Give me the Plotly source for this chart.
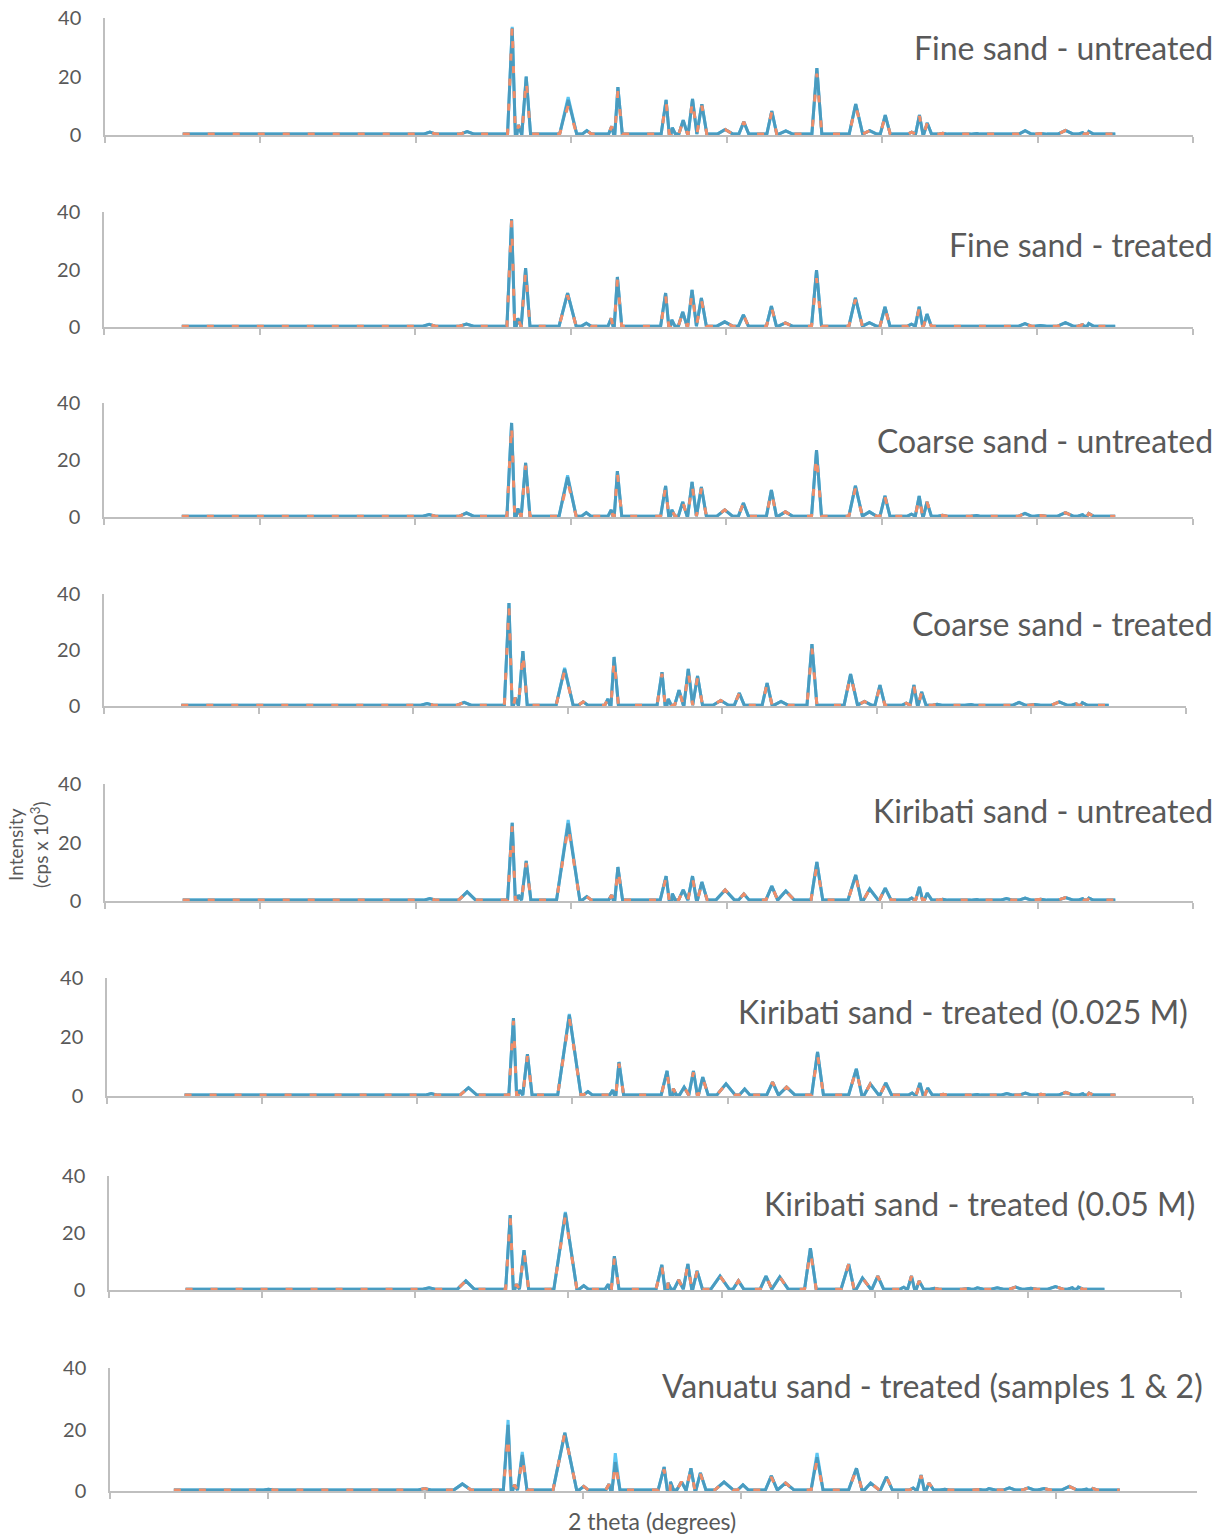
import plotly.graph_objects as go

# ---------------- data ----------------
PANEL_TITLES = [
    "Fine sand - untreated",
    "Fine sand - treated",
    "Coarse sand - untreated",
    "Coarse sand - treated",
    "Kiribati sand - untreated",
    "Kiribati sand - treated (0.025 M)",
    "Kiribati sand - treated (0.05 M)",
    "Vanuatu sand - treated (samples 1 & 2)",
]

SCAN_START = 5.0
SCAN_END = 65.0
BASELINE = [0.3, 0.3, 0.3, 0.3, 0.3, 0.3, 0.3, 0.3]

# peak positions (2 theta, degrees)
PEAK_POS = [11.0, 20.9, 23.3, 26.2, 26.6, 27.1, 29.8, 31.0, 32.6, 33.0,
            36.1, 36.5, 37.2, 37.8, 38.4, 39.9, 41.1, 42.9, 43.8, 45.8,
            48.3, 49.2, 50.2, 51.9, 52.4, 52.9, 53.9, 56.1, 56.7, 58.0,
            59.2, 60.2, 61.8, 62.9, 63.3]
# half base widths (degrees): quartz-rich sands / carbonate sands
PEAK_WID_SILICA = [0.3, 0.4, 0.45, 0.3, 0.2, 0.28, 0.55, 0.3, 0.2, 0.28,
                   0.32, 0.2, 0.28, 0.28, 0.32, 0.5, 0.32, 0.32, 0.45, 0.32,
                   0.42, 0.45, 0.32, 0.25, 0.28, 0.28, 0.3, 0.4, 0.4, 0.4,
                   0.4, 0.4, 0.5, 0.3, 0.3]
PEAK_WID_CARB = [0.3, 0.4, 0.55, 0.3, 0.2, 0.3, 0.75, 0.3, 0.2, 0.3,
                 0.38, 0.2, 0.3, 0.32, 0.35, 0.6, 0.35, 0.38, 0.55, 0.38,
                 0.5, 0.55, 0.38, 0.25, 0.32, 0.3, 0.3, 0.4, 0.4, 0.4,
                 0.4, 0.4, 0.5, 0.3, 0.3]
PANEL_WID = [PEAK_WID_SILICA] * 4 + [PEAK_WID_CARB] * 4

# intensities (cps x 10^3) per panel; three overlaid scans per panel
BLUE = [
    [0.5, 1.0, 1.2, 36.5, 3.4, 20.0, 12.0, 1.5, 3.0, 16.4, 12.0, 2.5, 5.1, 12.3, 10.5, 1.9, 4.5, 8.2, 1.4, 22.9, 10.6, 1.5, 6.8, 1.0, 6.8, 4.1, 0.6, 0.5, 0.4, 0.5, 1.5, 0.5, 1.6, 0.8, 1.2],
    [0.4, 0.9, 1.0, 37.5, 3.0, 20.5, 11.8, 1.3, 3.0, 17.4, 11.8, 2.5, 5.2, 12.9, 10.1, 1.8, 4.2, 7.3, 1.4, 19.8, 10.1, 1.5, 7.0, 1.0, 7.0, 4.5, 0.5, 0.5, 0.4, 0.5, 1.2, 0.5, 1.5, 0.8, 1.2],
    [0.3, 0.9, 1.4, 33.0, 3.0, 19.0, 14.0, 1.5, 2.5, 16.1, 10.9, 2.5, 5.3, 12.3, 10.5, 2.5, 4.9, 9.5, 1.8, 23.5, 10.9, 1.8, 7.4, 1.0, 7.4, 5.3, 0.6, 0.5, 0.5, 0.5, 1.3, 0.5, 1.5, 0.8, 1.2],
    [0.3, 0.9, 1.3, 36.8, 3.0, 19.6, 13.2, 1.5, 2.5, 17.5, 12.1, 2.5, 5.7, 13.2, 10.7, 2.0, 4.6, 8.2, 1.6, 22.1, 11.4, 1.6, 7.5, 1.0, 7.5, 5.0, 0.6, 0.5, 0.5, 0.5, 1.3, 0.5, 1.5, 0.8, 1.2],
    [0.3, 0.8, 3.1, 26.7, 2.0, 13.7, 26.5, 1.5, 2.0, 11.6, 8.5, 2.5, 3.8, 8.5, 6.5, 3.8, 2.4, 5.1, 3.4, 13.3, 8.9, 4.1, 4.4, 1.0, 4.8, 2.7, 0.6, 0.5, 0.5, 0.8, 1.0, 0.6, 1.2, 0.8, 1.0],
    [0.4, 0.8, 2.8, 26.4, 2.0, 14.2, 27.5, 1.5, 2.0, 11.5, 8.5, 2.5, 3.0, 8.5, 6.4, 4.1, 2.4, 4.7, 3.0, 14.9, 9.2, 4.1, 4.4, 1.0, 4.4, 2.7, 0.6, 0.5, 0.5, 0.8, 1.0, 0.6, 1.2, 0.8, 1.0],
    [0.4, 0.8, 3.2, 26.3, 2.0, 14.0, 27.0, 1.5, 2.0, 11.9, 8.8, 2.5, 3.5, 9.1, 6.7, 4.9, 3.2, 4.9, 4.6, 14.7, 9.1, 4.2, 4.9, 1.0, 4.9, 3.2, 0.6, 0.5, 0.8, 0.8, 1.0, 0.6, 1.2, 0.8, 1.0],
    [0.6, 0.8, 2.3, 21.5, 2.0, 11.7, 18.9, 1.5, 2.2, 9.4, 7.8, 3.0, 3.0, 7.4, 5.9, 2.9, 2.0, 4.9, 2.6, 11.0, 7.4, 2.6, 4.6, 1.0, 5.2, 2.6, 0.6, 0.5, 0.8, 1.0, 1.0, 0.8, 1.5, 0.6, 0.8],
]
ORANGE = [
    [0.5, 1.0, 1.2, 37.3, 3.4, 19.0, 10.0, 1.5, 3.0, 15.0, 11.5, 2.5, 5.1, 12.0, 10.0, 1.9, 4.5, 8.0, 1.4, 21.0, 10.0, 1.5, 6.5, 1.0, 6.5, 4.1, 0.6, 0.5, 0.4, 0.5, 1.5, 0.5, 1.6, 0.8, 1.2],
    [0.4, 0.9, 1.0, 37.0, 3.0, 19.5, 11.0, 1.3, 3.0, 16.5, 11.0, 2.5, 5.2, 12.0, 9.5, 1.8, 4.2, 7.0, 1.4, 17.0, 9.5, 1.5, 6.5, 1.0, 6.5, 4.5, 0.5, 0.5, 0.4, 0.5, 1.2, 0.5, 1.5, 0.8, 1.2],
    [0.3, 0.9, 1.4, 32.5, 3.0, 18.0, 12.5, 1.5, 2.5, 15.5, 10.5, 2.5, 5.3, 11.5, 10.0, 2.5, 4.9, 9.0, 1.8, 21.5, 10.0, 1.8, 7.0, 1.0, 7.0, 5.3, 0.6, 0.5, 0.5, 0.5, 1.3, 0.5, 1.5, 0.8, 1.2],
    [0.3, 0.9, 1.3, 35.5, 3.0, 19.0, 12.5, 1.5, 2.5, 16.5, 11.5, 2.5, 5.7, 12.5, 10.0, 2.0, 4.6, 8.0, 1.6, 20.5, 11.0, 1.6, 7.0, 1.0, 7.0, 5.0, 0.6, 0.5, 0.5, 0.5, 1.3, 0.5, 1.5, 0.8, 1.2],
    [0.3, 0.8, 3.1, 25.5, 2.0, 13.0, 25.5, 1.5, 2.0, 11.0, 8.0, 2.5, 3.8, 8.0, 6.0, 3.8, 2.4, 5.1, 3.4, 12.0, 8.5, 4.1, 4.4, 1.0, 4.5, 2.7, 0.6, 0.5, 0.5, 0.8, 1.0, 0.6, 1.2, 0.8, 1.0],
    [0.4, 0.8, 2.8, 25.5, 2.0, 13.5, 26.5, 1.5, 2.0, 11.0, 8.0, 2.5, 3.0, 8.0, 6.0, 4.1, 2.4, 4.7, 3.0, 14.0, 9.0, 4.1, 4.4, 1.0, 4.4, 2.7, 0.6, 0.5, 0.5, 0.8, 1.0, 0.6, 1.2, 0.8, 1.0],
    [0.4, 0.8, 3.2, 25.5, 2.0, 13.5, 26.0, 1.5, 2.0, 11.0, 8.5, 2.5, 3.5, 9.1, 6.5, 4.9, 3.2, 4.9, 4.6, 13.5, 9.1, 4.2, 4.9, 1.0, 4.9, 3.2, 0.6, 0.5, 0.8, 0.8, 1.0, 0.6, 1.2, 0.8, 1.0],
    [1.5, 0.8, 2.3, 18.0, 2.0, 11.0, 18.9, 1.5, 2.2, 9.0, 7.0, 3.0, 3.0, 7.0, 5.5, 2.9, 2.0, 4.5, 2.6, 10.0, 7.0, 2.6, 4.6, 1.0, 5.0, 2.6, 0.6, 0.5, 0.8, 1.0, 1.0, 0.8, 1.5, 0.6, 0.8],
]
CYAN = [
    [0.5, 1.0, 1.2, 37.0, 3.4, 20.0, 13.0, 1.5, 3.0, 16.4, 12.0, 2.5, 5.1, 12.3, 10.5, 1.9, 4.5, 8.2, 1.4, 22.9, 10.6, 1.5, 6.8, 1.0, 6.8, 4.1, 0.6, 0.5, 0.4, 0.5, 1.5, 0.5, 1.6, 0.8, 1.2],
    [0.4, 0.9, 1.0, 37.5, 3.0, 20.5, 11.8, 1.3, 3.0, 17.4, 11.8, 2.5, 5.2, 12.9, 10.1, 1.8, 4.2, 7.3, 1.4, 19.8, 10.1, 1.5, 7.0, 1.0, 7.0, 4.5, 0.5, 0.5, 0.4, 0.5, 1.2, 0.5, 1.5, 0.8, 1.2],
    [0.3, 0.9, 1.4, 33.0, 3.0, 19.0, 14.6, 1.5, 2.5, 16.1, 10.9, 2.5, 5.3, 12.3, 10.5, 2.5, 4.9, 9.5, 1.8, 23.5, 10.9, 1.8, 7.4, 1.0, 7.4, 5.3, 0.6, 0.5, 0.5, 0.5, 1.3, 0.5, 1.5, 0.8, 1.2],
    [0.3, 0.9, 1.3, 36.8, 3.0, 19.6, 13.6, 1.5, 2.5, 17.5, 12.1, 2.5, 5.7, 13.2, 10.7, 2.0, 4.6, 8.2, 1.6, 22.1, 11.4, 1.6, 7.5, 1.0, 7.5, 5.0, 0.6, 0.5, 0.5, 0.5, 1.3, 0.5, 1.5, 0.8, 1.2],
    [0.3, 0.8, 3.1, 26.7, 2.0, 13.7, 27.7, 1.5, 2.0, 11.6, 8.5, 2.5, 3.8, 8.5, 6.5, 3.8, 2.4, 5.1, 3.4, 13.3, 8.9, 4.1, 4.4, 1.0, 4.8, 2.7, 0.6, 0.5, 0.5, 0.8, 1.0, 0.6, 1.2, 0.8, 1.0],
    [0.4, 0.8, 2.8, 26.4, 2.0, 14.2, 27.8, 1.5, 2.0, 11.5, 8.5, 2.5, 3.0, 8.5, 6.4, 4.1, 2.4, 4.7, 3.0, 14.9, 9.2, 4.1, 4.4, 1.0, 4.4, 2.7, 0.6, 0.5, 0.5, 0.8, 1.0, 0.6, 1.2, 0.8, 1.0],
    [0.4, 0.8, 3.2, 26.3, 2.0, 14.0, 27.4, 1.5, 2.0, 11.9, 8.8, 2.5, 3.5, 9.1, 6.7, 4.9, 3.2, 4.9, 4.6, 14.7, 9.1, 4.2, 4.9, 1.0, 4.9, 3.2, 0.6, 0.5, 0.8, 0.8, 1.0, 0.6, 1.2, 0.8, 1.0],
    [0.6, 0.8, 2.3, 23.1, 2.0, 12.7, 18.9, 1.5, 2.2, 12.3, 7.8, 3.0, 3.0, 7.4, 5.9, 2.9, 2.0, 4.9, 2.6, 12.4, 7.4, 2.6, 4.6, 1.0, 5.2, 2.6, 0.6, 0.5, 0.8, 1.0, 1.0, 0.8, 1.5, 0.6, 0.8],
]

Y_TICKS = [0, 20, 40]
X_RANGES = [[0, 70]] * 7 + [[0.95, 69.9]]

# ---------------- layout geometry (pixels in a 1228 x 1534 page) ----------------
W, H = 1228, 1534
# (left, right, top-of-40, bottom-of-0)
BOXES = [
    (105, 1193, 18, 135),
    (104, 1193, 212, 327),
    (104, 1193, 403, 517),
    (104, 1186, 594, 706),
    (105, 1193, 784, 901),
    (107, 1193, 978, 1096),
    (109, 1181, 1176, 1290),
    (110, 1197, 1368, 1491),
]
TITLE_POS = [(1215, 48), (1215, 245), (1215, 440), (1215, 623),
             (1215, 810), (1190, 1011), (1197, 1203), (1205, 1385)]

FONT = "Lato, 'Open Sans', sans-serif"
GREY = "#595959"
AXIS = "#BFBFBF"
C_BLUE = "#4A9BBF"
C_ORANGE = "#F08E6A"
C_CYAN = "#5CC6F2"


def profile(heights, widths, base):
    pts = [(SCAN_START, base), (SCAN_END, base)]
    for p, w, h in zip(PEAK_POS, widths, heights):
        pts += [(p - w, base), (p, h), (p + w, base)]
    pts.sort()
    return [q[0] for q in pts], [q[1] for q in pts]


fig = go.Figure()
layout = dict(
    width=W, height=H,
    margin=dict(l=0, r=0, t=0, b=0, autoexpand=False),
    paper_bgcolor="white", plot_bgcolor="white",
    showlegend=False,
    font=dict(family=FONT, color=GREY),
)
annotations = []

for i in range(8):
    n = "" if i == 0 else str(i + 1)
    xa, ya = "x" + n, "y" + n
    base = BASELINE[i]
    for heights, color, dash in ((CYAN[i], C_CYAN, "solid"),
                                 (BLUE[i], C_BLUE, "solid"),
                                 (ORANGE[i], C_ORANGE, "7px,18px")):
        xs, ys = profile(heights, PANEL_WID[i], base)
        fig.add_trace(go.Scatter(x=xs, y=ys, mode="lines", xaxis=xa, yaxis=ya,
                                 line=dict(color=color, width=3, dash=dash),
                                 hoverinfo="skip"))
    l, r, t, b = BOXES[i]
    x0 = X_RANGES[i][0]
    layout["xaxis" + n] = dict(
        domain=[l / W, r / W], anchor=ya, range=X_RANGES[i],
        showline=True, linecolor=AXIS, linewidth=1.5,
        ticks="outside", ticklen=6, tickwidth=1.5, tickcolor=AXIS,
        tick0=x0, dtick=10, showticklabels=False,
        showgrid=False, zeroline=False, automargin=False,
    )
    layout["yaxis" + n] = dict(
        domain=[1 - b / H, 1 - t / H], anchor=xa, range=[0, 40],
        tickvals=Y_TICKS, ticks="", ticklabelstandoff=18,
        tickfont=dict(family=FONT, size=20, color=GREY),
        showline=True, linecolor=AXIS, linewidth=1.5,
        showgrid=False, zeroline=False, automargin=False,
    )
    tx, ty = TITLE_POS[i]
    annotations.append(dict(
        text=PANEL_TITLES[i], xref="paper", yref="paper",
        x=tx / W, y=1 - ty / H, xanchor="right", yanchor="middle",
        showarrow=False, font=dict(family=FONT, size=32, color=GREY),
    ))

annotations.append(dict(
    text="Intensity<br>(cps x 10<sup>3</sup>)", xref="paper", yref="paper",
    x=28 / W, y=1 - 845 / H, xanchor="center", yanchor="middle",
    textangle=-90, showarrow=False,
    font=dict(family=FONT, size=19, color=GREY),
))
annotations.append(dict(
    text="2 theta (degrees)", xref="paper", yref="paper",
    x=652 / W, y=1 - 1521 / H, xanchor="center", yanchor="middle",
    showarrow=False, font=dict(family=FONT, size=23, color=GREY),
))
layout["annotations"] = annotations
fig.update_layout(**layout)

fig.write_html("out.html")
